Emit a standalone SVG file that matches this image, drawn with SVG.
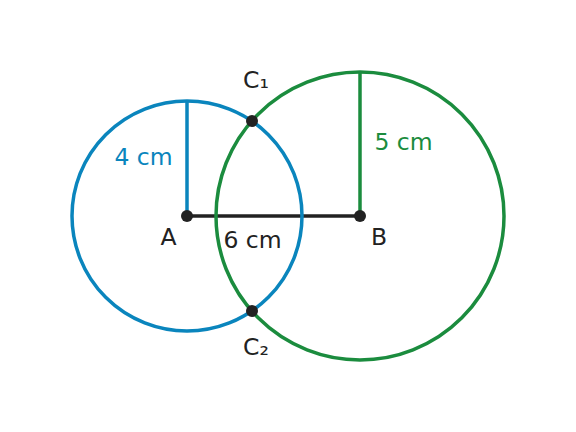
<svg xmlns="http://www.w3.org/2000/svg" width="576" height="432" viewBox="0 0 576 432">
<style>
text{font-family:"DejaVu Sans",sans-serif;font-size:23.5px;fill:#222}
.blue{stroke:#0a85bd;fill:none;stroke-width:3.5}
.green{stroke:#1b8c3e;fill:none;stroke-width:3.5}
.seg{stroke:#222;stroke-width:3.5;fill:none}
.pt{fill:#222}
</style>
<rect width="576" height="432" fill="#fff"/>
<g id="connectors">
<line class="seg" x1="187" y1="216" x2="360" y2="216"/>
<line class="blue" x1="187" y1="216" x2="187" y2="101"/>
<line class="green" x1="360" y1="216" x2="360" y2="72"/>
</g>
<g id="circleB"><circle class="green" cx="360" cy="216" r="144"/></g>
<g id="circleA"><circle class="blue" cx="187" cy="216" r="115"/></g>
<g id="A"><circle class="pt" cx="187" cy="216" r="6"/><text x="168.5" y="245" text-anchor="middle">A</text></g>
<g id="B"><circle class="pt" cx="360" cy="216" r="6"/><text x="379" y="245" text-anchor="middle">B</text></g>
<g id="C1"><circle class="pt" cx="252" cy="121" r="6"/><text x="256" y="88" text-anchor="middle">C₁</text></g>
<g id="C2"><circle class="pt" cx="252" cy="311" r="6"/><text x="256" y="355" text-anchor="middle">C₂</text></g>
<g id="labels">
<text x="143.5" y="165" text-anchor="middle" style="fill:#0a85bd">4 cm</text>
<text x="403.5" y="150" text-anchor="middle" style="fill:#1b8c3e">5 cm</text>
<text x="252.5" y="248" text-anchor="middle">6 cm</text>
</g>
</svg>
